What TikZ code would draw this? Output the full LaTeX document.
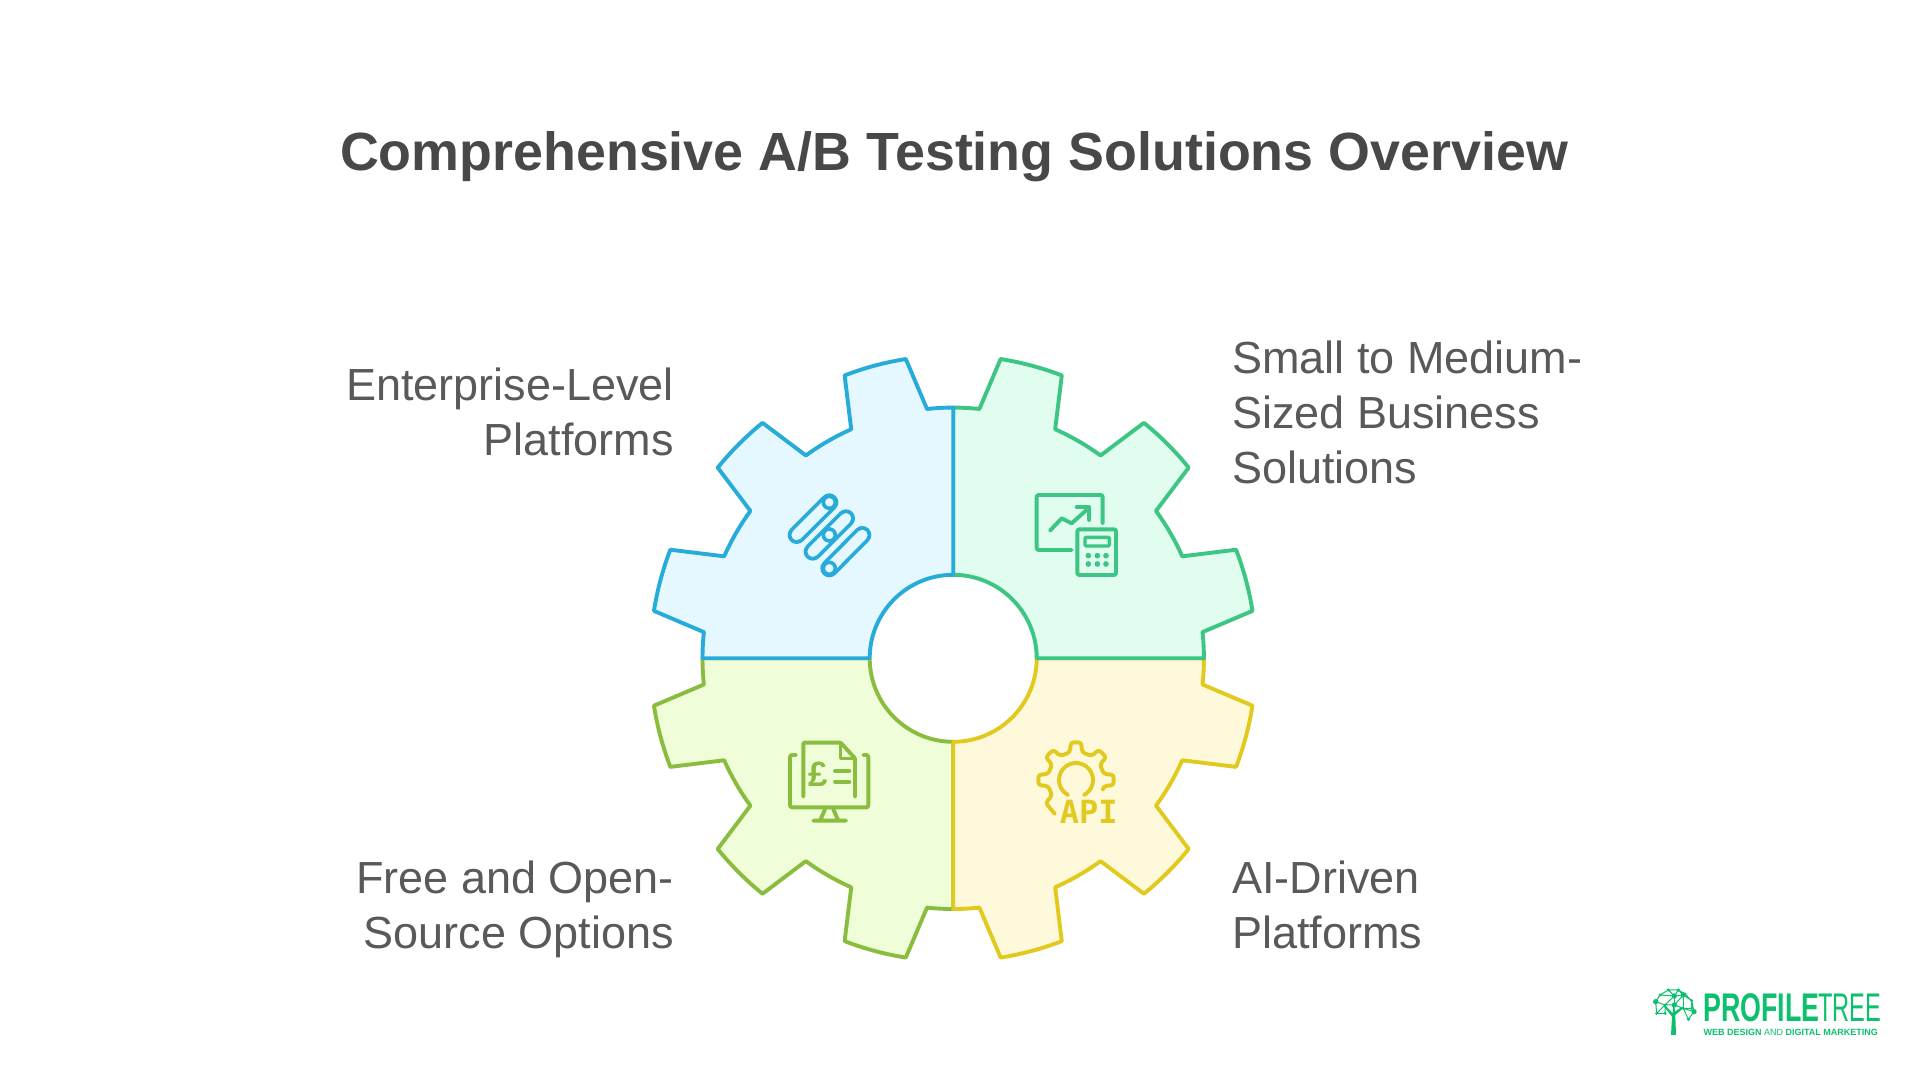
\documentclass[tikz,border=0pt]{standalone}
\usepackage{fontspec}
\usepackage{graphicx}
\setmainfont{Liberation Sans}
\newfontfamily\iconmono{DejaVu Sans Mono}
\definecolor{bluel}{HTML}{27ACD9}\definecolor{bluef}{HTML}{E5F8FF}
\definecolor{greenl}{HTML}{3CC583}\definecolor{greenf}{HTML}{E0FDEF}
\definecolor{limel}{HTML}{8ABD3F}\definecolor{limef}{HTML}{F0FDD9}
\definecolor{yell}{HTML}{E2C91E}\definecolor{yelf}{HTML}{FFF9DC}
\definecolor{txt}{HTML}{595959}\definecolor{ttl}{HTML}{484848}
\definecolor{brand}{HTML}{0DC06E}
\tikzset{
 gearpart/.style={line width=3.9pt,line join=round},
 label/.style={text=txt,inner sep=0pt,font=\fontsize{45}{55}\selectfont},
 icon/.style={line width=3.9pt,line cap=round,line join=round},
 zoomed/.style={x=0.3333pt,y=-0.3333pt},
 treeline/.style={line width=1pt,brand},
}
\newcommand{\gearquad}[3]{%
 \begin{scope}[shift={(953.2,421.7)},rotate=#1]
 \draw[gearpart,draw=#2,fill=#3] (90:250.7) arc[start angle=90,end angle=96,radius=250.7]
  -- (99:303) arc[start angle=99,end angle=111,radius=303]
  -- (114:250.7) arc[start angle=114,end angle=126,radius=250.7]
  -- (129:303) arc[start angle=129,end angle=141,radius=303]
  -- (144:250.7) arc[start angle=144,end angle=156,radius=250.7]
  -- (159:303) arc[start angle=159,end angle=171,radius=303]
  -- (174:250.7) arc[start angle=174,end angle=180,radius=250.7]
  -- (180:83.5) arc[start angle=180,end angle=90,radius=83.5] -- cycle;
 \end{scope}}
\begin{document}
\begin{tikzpicture}[x=1pt,y=1pt]
\useasboundingbox (0,0) rectangle (1920,1080);
\fill[white] (0,0) rectangle (1920,1080);
\node[text=ttl,inner sep=0pt,font=\fontsize{53.8}{60}\selectfont\bfseries] (title) at (954,923) {Comprehensive A/B Testing Solutions Overview};
\gearquad{90}{limel}{limef}
\gearquad{180}{yell}{yelf}
\gearquad{-90}{greenl}{greenf}
\gearquad{0}{bluel}{bluef}
\node[label,anchor=east,align=right] (tl) at (674,668) {Enterprise-Level\\Platforms};
\node[label,anchor=west,align=left] (tr) at (1232,668) {Small to Medium-\\Sized Business\\Solutions};
\node[label,anchor=east,align=right] (bl) at (674,171) {Free and Open-\\Source Options};
\node[label,anchor=west,align=left] (br) at (1232,175) {AI-Driven\\Platforms};
% blue icon
\begin{scope}[shift={(770,600)},zoomed,icon,draw=bluel]
 \foreach \a/\b/\c/\d in {80/165/178/67,128/215/228/115,178/265/277/165}{
  \draw[line width=18pt,bluel] (\a,\b)--(\c,\d);
  \draw[line width=10.5pt,bluef] (\a,\b)--(\c,\d);}
 \foreach \p/\q in {178/67,178/165,178/265}
  \draw[fill=bluef,line width=3.6pt] (\p,\q) circle[radius=18];
\end{scope}
% green icon
\begin{scope}[shift={(1020,600)},zoomed,icon,draw=greenl,greenl]
 \draw[rounded corners=2pt] (248,130)--(248,45)--(50,45)--(50,210)--(155,210);
 \draw (90,152)--(125,115)--(155,130)--(205,85);
 \draw (170,82)--(208,82)--(208,120);
 \draw[rounded corners=2pt] (172,148) rectangle (288,285);
 \draw[rounded corners=1pt,line width=3.4pt] (195,172) rectangle (268,198);
 \foreach \p in {205,232,258}\foreach \q in {227,252}
  \fill (\p,\q) circle[radius=8.5];
\end{scope}
% lime icon
\begin{scope}[shift={(770,350)},zoomed,icon,draw=limel]
 \draw[rounded corners=2pt] (78,75)--(60,75)--(60,232)--(295,232)--(295,75)--(280,75);
 \draw[rounded corners=1pt] (100,200)--(100,38)--(212,38)--(255,85)--(255,200);
 \draw[line width=3.4pt] (212,38)--(212,85)--(255,85);
 \draw (165,238)--(150,272) (190,238)--(205,272) (130,272)--(228,272);
 \draw (195,123)--(238,123) (195,155)--(238,155);
 \node[limel,inner sep=0pt,font=\fontsize{35}{35}\selectfont\bfseries] (pound) at (146,133) {£};
\end{scope}
% yellow icon
\begin{scope}[shift={(1020,350)},zoomed,icon,draw=yell]
 \begin{scope}[shift={(168,150)}]
 \draw[rounded corners=3pt,x=1pt,y=1pt] (-20:28.5) \foreach \a in {0,45,90,135,180}{ -- (\a-12:28.5) -- (\a-8:38) -- (\a+8:38) -- (\a+12:28.5)} -- (213:28.5) -- (217:38) -- (238:40);
 \draw[x=1pt,y=1pt] (-62:17) arc[start angle=-62,end angle=242,radius=17];
 \end{scope}
 \node[yell,inner sep=0pt,font=\iconmono\fontsize{32}{32}\selectfont\bfseries] (api) at (206,245) {API};
\end{scope}
% logo
\begin{scope}[shift={(1640,110)},zoomed]
 \fill[brand] (93,195)--(108,195)--(106,135)--(130,115)--(126,110)--(105,125)--(103,105)--(99,105)--(98,130)--(75,105)--(72,110)--(96,140)--cycle;
 \foreach \a/\b in {47/95,60/75,85/60,115/60,135/72,155/92,162/125,145/148,50/130,75/130,103/78,130/75,75/105,103/105,130/115,155/115}
  \fill[brand] (\a,\b) circle[radius=5];
 \foreach \a/\b in {47/95,103/78,130/75,103/105,162/125}
  \fill[brand] (\a,\b) circle[radius=8];
 \draw[treeline] (47,95)--(60,75)--(85,60)--(115,60)--(135,72)--(155,92)--(162,125)--(145,148)--(130,115)--(155,115)--(155,92)--(130,75)--(103,78)--(85,60) (47,95)--(50,130)--(75,105)--(47,95) (60,75)--(103,78)--(75,105)--(103,105)--(130,75)--(115,60)--(103,78)--(103,105)--(130,115)--(162,125) (50,130)--(75,130)--(75,105) (130,75)--(130,115);
 \node[brand,inner sep=0pt,anchor=west,font=\fontsize{40}{40}\selectfont\bfseries] (logo1) at (190,112) {\scalebox{0.67}[1]{PROFILE}};
 \node[brand,inner sep=0pt,anchor=west,font=\fontsize{40}{40}\selectfont] (logo2) at (535,112) {\scalebox{0.59}[1]{TREE}};
 \node[brand,inner sep=0pt,anchor=west,font=\fontsize{9}{9}\selectfont\bfseries] (logo3) at (190,187) {WEB DESIGN {\mdseries AND} DIGITAL MARKETING};
\end{scope}
\end{tikzpicture}
\end{document}
